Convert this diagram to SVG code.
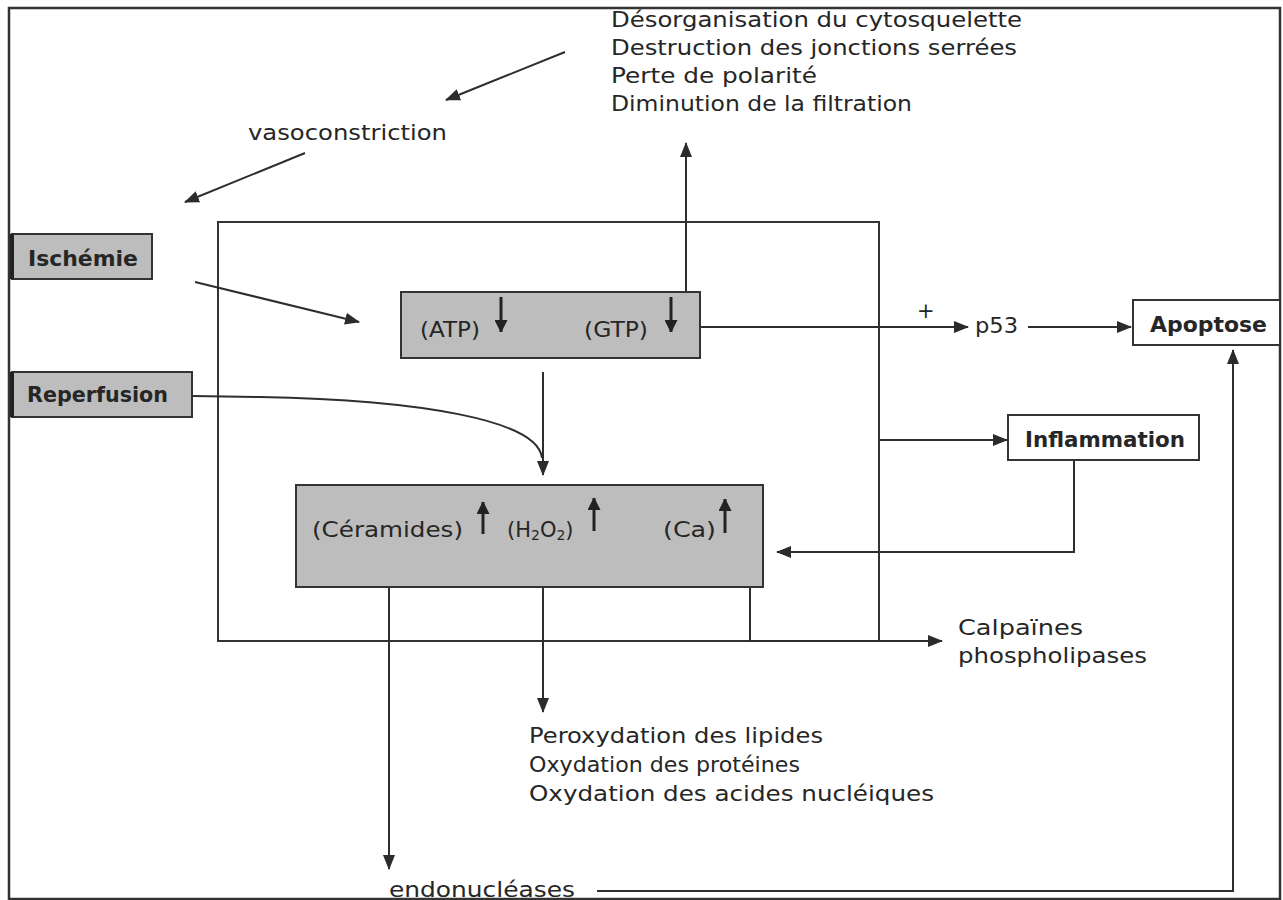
<svg xmlns="http://www.w3.org/2000/svg" width="1283" height="900" viewBox="0 0 1283 900">
<defs>
<marker id="ah" markerUnits="userSpaceOnUse" markerWidth="15" markerHeight="12" refX="14" refY="6" orient="auto">
<path d="M0,0 L15,6 L0,12 z" fill="#2b2b2b"/>
</marker>
<marker id="ahs" markerUnits="userSpaceOnUse" markerWidth="12" markerHeight="13" refX="12" refY="6.5" orient="auto">
<path d="M0,0 L13,6.5 L0,13 z" fill="#222"/>
</marker>
</defs>
<style>
.t{font-family:"DejaVu Sans","Liberation Sans",sans-serif;font-size:21px;fill:#262626}
.b{font-family:"DejaVu Sans","Liberation Sans",sans-serif;font-size:21px;font-weight:bold;fill:#262626}
.ln{fill:none;stroke:#2e2e2e;stroke-width:2}
.ar{fill:none;stroke:#2e2e2e;stroke-width:2;marker-end:url(#ah)}
.sa{fill:none;stroke:#222;stroke-width:3;marker-end:url(#ahs)}
.gbox{fill:#bdbdbd;stroke:#333;stroke-width:2}
.wbox{fill:#ffffff;stroke:#333;stroke-width:2}
</style>
<rect x="0" y="0" width="1283" height="900" fill="#ffffff"/>
<rect id="frame" x="9" y="8" width="1271" height="891" fill="none" stroke="#333" stroke-width="2.5"/>
<rect id="inner" x="218" y="222" width="661" height="419" fill="none" stroke="#333" stroke-width="2"/>

<g id="connectors">
<line class="ar" x1="565" y1="52" x2="446" y2="100"/>
<line class="ar" x1="305" y1="153" x2="185" y2="202"/>
<line class="ar" x1="195" y1="282" x2="359" y2="322"/>
<line class="ar" x1="686" y1="292" x2="686" y2="143"/>
<path class="ln" d="M193,396 L260,397 C420,400 538,420 542,458"/>
<line class="ar" x1="543" y1="372" x2="543" y2="475"/>
<line class="ar" x1="700" y1="327" x2="968" y2="327"/>
<line class="ar" x1="1028" y1="327" x2="1131" y2="327"/>
<line class="ar" x1="879" y1="440" x2="1007" y2="440"/>
<polyline class="ar" points="1074,460 1074,552 777,552"/>
<polyline class="ar" points="750,587 750,641 942,641"/>
<line class="ar" x1="389" y1="587" x2="389" y2="869"/>
<line class="ar" x1="543" y1="587" x2="543" y2="712"/>
<polyline class="ar" points="597,891 1233,891 1233,350"/>
</g>

<g id="effets-haut">
<text class="t" x="611" y="27" textLength="411" lengthAdjust="spacingAndGlyphs">Désorganisation du cytosquelette</text>
<text class="t" x="611" y="55" textLength="406" lengthAdjust="spacingAndGlyphs">Destruction des jonctions serrées</text>
<text class="t" x="611" y="83" textLength="206" lengthAdjust="spacingAndGlyphs">Perte de polarité</text>
<text class="t" x="611" y="111" textLength="301" lengthAdjust="spacingAndGlyphs">Diminution de la filtration</text>
</g>
<g id="vasoconstriction">
<text class="t" x="248" y="140" textLength="199" lengthAdjust="spacingAndGlyphs">vasoconstriction</text>
</g>
<g id="ischemie">
<rect class="gbox" x="12" y="234" width="140" height="45"/>
<line x1="12" y1="234" x2="12" y2="279" stroke="#222" stroke-width="4"/>
<text class="b" x="28" y="266" textLength="110" lengthAdjust="spacingAndGlyphs">Ischémie</text>
</g>
<g id="reperfusion">
<rect class="gbox" x="12" y="372" width="180" height="45"/>
<line x1="12" y1="372" x2="12" y2="417" stroke="#222" stroke-width="4"/>
<text class="b" x="27" y="402" textLength="141" lengthAdjust="spacingAndGlyphs">Reperfusion</text>
</g>
<g id="atp-gtp">
<rect class="gbox" x="401" y="292" width="299" height="66"/>
<text class="t" x="420" y="337" textLength="60" lengthAdjust="spacingAndGlyphs">(ATP)</text>
<text class="t" x="584" y="337" textLength="64" lengthAdjust="spacingAndGlyphs">(GTP)</text>
<line class="sa" x1="501" y1="297" x2="501" y2="332"/>
<line class="sa" x1="671" y1="297" x2="671" y2="332"/>
</g>
<g id="ceramides">
<rect class="gbox" x="296" y="485" width="467" height="102"/>
<text class="t" x="312" y="537" textLength="151" lengthAdjust="spacingAndGlyphs">(Céramides)</text>
<text class="t" x="507" y="537">(H<tspan font-size="14" dy="3">2</tspan><tspan dy="-3">O</tspan><tspan font-size="14" dy="3">2</tspan><tspan dy="-3">)</tspan></text>
<text class="t" x="663" y="537" textLength="53" lengthAdjust="spacingAndGlyphs">(Ca)</text>
<line class="sa" x1="483" y1="534" x2="483" y2="502"/>
<line class="sa" x1="594" y1="531" x2="594" y2="498"/>
<line class="sa" x1="725" y1="533" x2="725" y2="499"/>
</g>
<g id="p53">
<text class="t" x="917" y="318">+</text>
<text class="t" x="975" y="333" textLength="43" lengthAdjust="spacingAndGlyphs">p53</text>
</g>
<g id="apoptose">
<rect class="wbox" x="1133" y="300" width="147" height="45"/>
<text class="b" x="1150" y="332" textLength="117" lengthAdjust="spacingAndGlyphs">Apoptose</text>
</g>
<g id="inflammation">
<rect class="wbox" x="1008" y="415" width="191" height="45"/>
<text class="b" x="1025" y="447" textLength="160" lengthAdjust="spacingAndGlyphs">Inflammation</text>
</g>
<g id="calpaines">
<text class="t" x="958" y="635" textLength="125" lengthAdjust="spacingAndGlyphs">Calpaïnes</text>
<text class="t" x="958" y="663" textLength="189" lengthAdjust="spacingAndGlyphs">phospholipases</text>
</g>
<g id="oxydation">
<text class="t" x="529" y="743" textLength="294" lengthAdjust="spacingAndGlyphs">Peroxydation des lipides</text>
<text class="t" x="529" y="772" textLength="271" lengthAdjust="spacingAndGlyphs">Oxydation des protéines</text>
<text class="t" x="529" y="801" textLength="405" lengthAdjust="spacingAndGlyphs">Oxydation des acides nucléiques</text>
</g>
<g id="endonucleases">
<text class="t" x="389" y="897" textLength="186" lengthAdjust="spacingAndGlyphs">endonucléases</text>
</g>
</svg>
